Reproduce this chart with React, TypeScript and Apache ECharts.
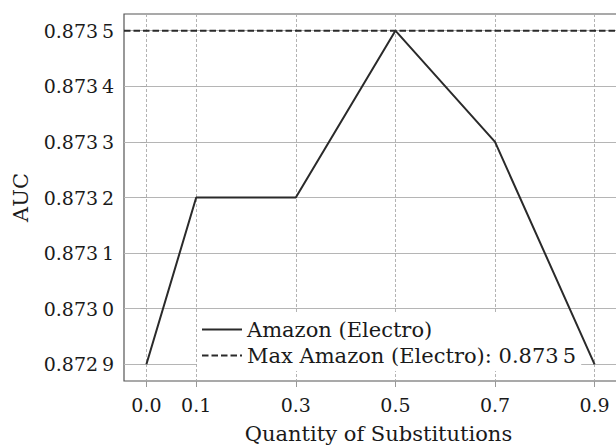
import React, { useEffect, useRef } from "react";
import * as echarts from "echarts";

const xValues = [0.0, 0.1, 0.3, 0.5, 0.7, 0.9];
const aucValues = [0.8729, 0.8732, 0.8732, 0.8735, 0.8733, 0.8729];
const xTicks = [0.0, 0.1, 0.3, 0.5, 0.7, 0.9];
const yTicks = [0.8729, 0.873, 0.8731, 0.8732, 0.8733, 0.8734, 0.8735];
const seriesName = "Amazon (Electro)";
const xTitle = "Quantity of Substitutions";
const yTitle = "AUC";

const X_MIN = -0.045;
const X_MAX = 0.945;
const Y_MIN = 0.87287;
const Y_MAX = 0.87353;

const fmtY = (v: number) => {
  const s = v.toFixed(4);
  return s.slice(0, 5) + "\u2009" + s.slice(5);
};

const FONT = "DejaVu Serif";
const TICK_FS = 19;
const TITLE_FS = 21;
const INK = "#1a1a1a";
const LINE = "#2a2a2a";

export default function App() {
  const ref = useRef<HTMLDivElement>(null);
  useEffect(() => {
    if (!ref.current) return;
    const chart = echarts.init(ref.current, undefined, { renderer: "svg" });
    const maxAuc = Math.max(...aucValues);
    const maxName = "Max " + seriesName + ": " + fmtY(maxAuc);
    chart.setOption({
      animation: false,
      backgroundColor: "#fff",
      textStyle: { fontFamily: FONT },
      grid: {
        left: 124,
        top: 14,
        right: -1,
        bottom: 65,
        containLabel: false,
        outerBoundsMode: "none",
        show: true,
        borderColor: "#555",
        borderWidth: 1.2,
        backgroundColor: "transparent",
      },
      legend: {
        orient: "vertical",
        left: 197,
        top: 314,
        z: 1,
        padding: [5, 5, 5, 4],
        backgroundColor: "#fff",
        itemWidth: 40,
        itemHeight: 14,
        itemGap: 5,
        itemStyle: { opacity: 0 },
        textStyle: { fontFamily: FONT, fontSize: TITLE_FS, color: INK },
        data: [seriesName, maxName],
      },
      xAxis: {
        type: "value",
        min: X_MIN,
        max: X_MAX,
        name: xTitle,
        nameLocation: "middle",
        nameGap: 42,
        nameTextStyle: {
          fontFamily: FONT,
          fontSize: TITLE_FS,
          color: INK,
          padding: [0, 0, 0, 16],
        },
        axisLine: { show: false },
        axisTick: {
          show: true,
          length: 6,
          customValues: xTicks,
          lineStyle: { color: "#999", width: 1 },
        },
        axisLabel: {
          customValues: xTicks,
          margin: 14,
          fontFamily: FONT,
          fontSize: TICK_FS,
          color: INK,
          formatter: (v: number) => v.toFixed(1),
        },
        splitLine: {
          show: true,
          lineStyle: { type: [3, 2], color: "#aaa", width: 0.9 },
        },
      },
      yAxis: {
        type: "value",
        min: Y_MIN,
        max: Y_MAX,
        name: yTitle,
        nameLocation: "middle",
        nameGap: 92.5,
        nameTextStyle: { fontFamily: FONT, fontSize: TITLE_FS, color: INK },
        axisLine: { show: false },
        axisTick: {
          show: true,
          length: 6,
          customValues: yTicks,
          lineStyle: { color: "#aaa", width: 1 },
        },
        axisLabel: {
          customValues: yTicks,
          margin: 10,
          fontFamily: FONT,
          fontSize: TICK_FS,
          color: INK,
          formatter: (v: number) => fmtY(v),
        },
        splitLine: {
          show: true,
          lineStyle: { type: "solid", color: "#b5b5b5", width: 1 },
        },
      },
      series: [
        {
          name: seriesName,
          type: "line",
          z: 3,
          data: xValues.map((x, i) => [x, aucValues[i]]),
          showSymbol: false,
          symbol: "none",
          lineStyle: { color: LINE, width: 2 },
          itemStyle: { color: LINE },
        },
        {
          name: maxName,
          type: "line",
          z: 3,
          data: [
            [X_MIN, maxAuc],
            [X_MAX, maxAuc],
          ],
          showSymbol: false,
          symbol: "none",
          lineStyle: { color: LINE, width: 2, type: [6.5, 3] },
          itemStyle: { color: LINE },
        },
      ],
    });
    return () => chart.dispose();
  }, []);
  return (
    <div
      ref={ref}
      style={{ position: "fixed", left: 0, top: 0, width: 616, height: 446 }}
    />
  );
}
